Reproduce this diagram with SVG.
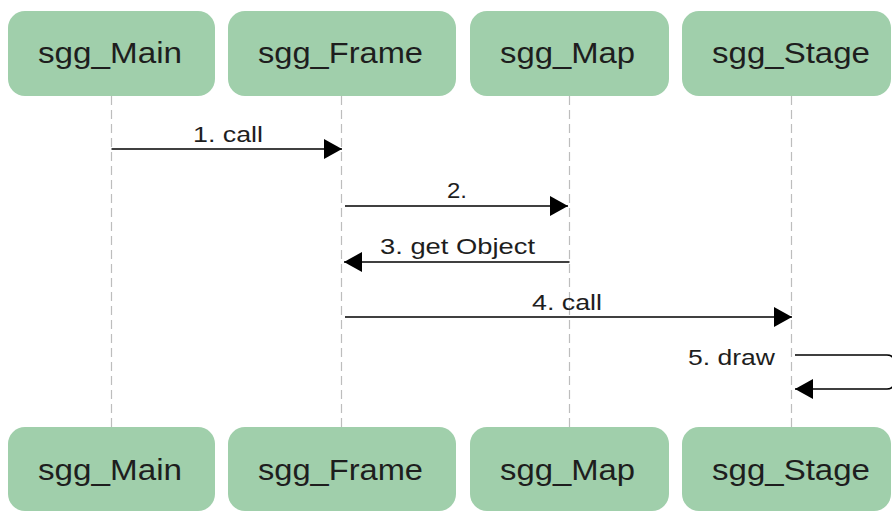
<svg xmlns="http://www.w3.org/2000/svg" width="892" height="512" viewBox="0 0 892 512">
  <style>
    .box { fill: #a0cfab; }
    .name { font-family: "Liberation Sans", Arial, sans-serif; font-size: 29px; fill: #1e1e1e; text-anchor: middle; }
    .life { stroke: #bdbdbd; stroke-width: 1.2; stroke-dasharray: 9 5; fill: none; }
    .msg { stroke: #000; stroke-width: 1.7; fill: none; }
    .lbl { font-family: "Liberation Sans", Arial, sans-serif; font-size: 22px; fill: #1e1e1e; text-anchor: middle; }
  </style>
  <defs>
    <marker id="head" viewBox="0 0 18 20" refX="18" refY="10" markerWidth="18" markerHeight="20" markerUnits="userSpaceOnUse" orient="auto">
      <path d="M0,0 L18,10 L0,20 Z" fill="#000"/>
    </marker>
  </defs>
  <rect width="892" height="512" fill="#fff"/>

  <!-- lifelines -->
  <g id="lifelines">
    <line class="life" x1="111.5" y1="96" x2="111.5" y2="427"/>
    <line class="life" x1="341.5" y1="96" x2="341.5" y2="427"/>
    <line class="life" x1="569.5" y1="96" x2="569.5" y2="427"/>
    <line class="life" x1="791.5" y1="96" x2="791.5" y2="427"/>
  </g>

  <!-- participants (top) -->
  <g id="main-top"><rect class="box" x="8" y="11" width="207" height="85" rx="17"/><text class="name" x="110" y="63" textLength="144" lengthAdjust="spacingAndGlyphs">sgg_Main</text></g>
  <g id="frame-top"><rect class="box" x="228" y="11" width="228" height="85" rx="17"/><text class="name" x="340.5" y="63" textLength="165" lengthAdjust="spacingAndGlyphs">sgg_Frame</text></g>
  <g id="map-top"><rect class="box" x="470" y="11" width="199" height="85" rx="17"/><text class="name" x="567.5" y="63" textLength="135" lengthAdjust="spacingAndGlyphs">sgg_Map</text></g>
  <g id="stage-top"><rect class="box" x="682" y="11" width="209" height="85" rx="17"/><text class="name" x="791" y="63" textLength="158" lengthAdjust="spacingAndGlyphs">sgg_Stage</text></g>

  <!-- participants (bottom) -->
  <g id="main-bottom"><rect class="box" x="8" y="427" width="207" height="84" rx="17"/><text class="name" x="110" y="480" textLength="144" lengthAdjust="spacingAndGlyphs">sgg_Main</text></g>
  <g id="frame-bottom"><rect class="box" x="228" y="427" width="228" height="84" rx="17"/><text class="name" x="340.5" y="480" textLength="165" lengthAdjust="spacingAndGlyphs">sgg_Frame</text></g>
  <g id="map-bottom"><rect class="box" x="470" y="427" width="199" height="84" rx="17"/><text class="name" x="567.5" y="480" textLength="135" lengthAdjust="spacingAndGlyphs">sgg_Map</text></g>
  <g id="stage-bottom"><rect class="box" x="682" y="427" width="209" height="84" rx="17"/><text class="name" x="791" y="480" textLength="158" lengthAdjust="spacingAndGlyphs">sgg_Stage</text></g>

  <!-- messages -->
  <g id="messages">
    <line class="msg" x1="111.5" y1="149" x2="342" y2="149" marker-end="url(#head)"/>
    <text class="lbl" x="228" y="142" textLength="70" lengthAdjust="spacingAndGlyphs">1. call</text>

    <line class="msg" x1="345" y1="206" x2="568" y2="206" marker-end="url(#head)"/>
    <text class="lbl" x="457" y="198" textLength="20" lengthAdjust="spacingAndGlyphs">2.</text>

    <line class="msg" x1="569.5" y1="262" x2="344" y2="262" marker-end="url(#head)"/>
    <text class="lbl" x="457.5" y="254" textLength="155" lengthAdjust="spacingAndGlyphs">3. get Object</text>

    <line class="msg" x1="345" y1="317" x2="792" y2="317" marker-end="url(#head)"/>
    <text class="lbl" x="567" y="310" textLength="70" lengthAdjust="spacingAndGlyphs">4. call</text>

    <!-- self call on sgg_Stage, loop runs past the right edge -->
    <path class="msg" d="M795,355 H887 Q894,355 894,362 V382 Q894,389 887,389 H795" marker-end="url(#head)"/>
    <text class="lbl" x="775" y="365" style="text-anchor:end" textLength="87" lengthAdjust="spacingAndGlyphs">5. draw</text>
  </g>
</svg>
